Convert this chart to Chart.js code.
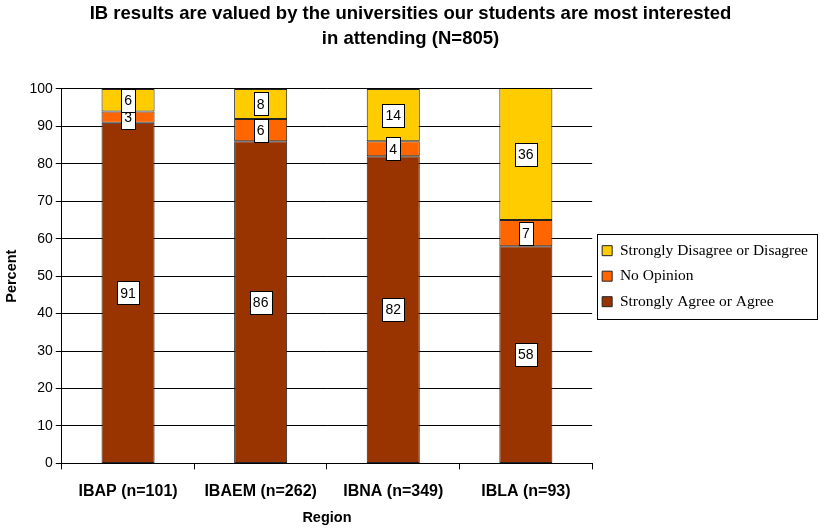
<!DOCTYPE html>
<html>
<head>
<meta charset="utf-8">
<script src="https://cdn.jsdelivr.net/npm/chart.js@4"></script>
<style>
  html, body { margin: 0; padding: 0; background: #fff; }
  #wrap { width: 820px; height: 528px; }
</style>
</head>
<body>
<div id="wrap"><canvas id="chart"></canvas></div>
<script>
const regions = ['IBAP (n=101)', 'IBAEM (n=262)', 'IBNA (n=349)', 'IBLA (n=93)'];
const agree = [91, 86, 82, 58];
const noOpinion = [3, 6, 4, 7];
const disagree = [6, 8, 14, 36];
const yTicks = [0, 10, 20, 30, 40, 50, 60, 70, 80, 90, 100];

// white boxed value labels in the middle of each segment
const boxLabels = {
  id: 'boxLabels',
  afterDatasetsDraw(chart) {
    const ctx = chart.ctx;
    const area = chart.chartArea;
    ctx.save();
    ctx.font = '14px "Liberation Sans", Arial, sans-serif';
    ctx.textAlign = 'center';
    ctx.textBaseline = 'middle';
    chart.data.datasets.forEach((ds, i) => {
      chart.getDatasetMeta(i).data.forEach((bar, j) => {
        const top = Math.max(bar.y, area.top);
        const cy = (top + bar.base) / 2;
        const txt = String(ds.data[j]);
        const w = Math.round(ctx.measureText(txt).width + 6);
        const h = 23;
        const x0 = Math.round(bar.x - w / 2);
        const y0 = Math.round(cy - h / 2);
        ctx.fillStyle = '#fff';
        ctx.fillRect(x0, y0, w, h);
        ctx.strokeStyle = '#000';
        ctx.lineWidth = 1;
        ctx.strokeRect(x0 + 0.5, y0 + 0.5, w, h);
        ctx.fillStyle = '#000';
        ctx.fillText(txt, bar.x, cy + 1);
      });
    });
    ctx.restore();
  }
};

// frame around the legend items
const legendFrame = {
  id: 'legendFrame',
  afterDraw(chart) {
    const lg = chart.legend;
    const boxes = lg.legendHitBoxes;
    if (!boxes || !boxes.length) return;
    const top = Math.min(...boxes.map(b => b.top)) - 9;
    const bottom = Math.max(...boxes.map(b => b.top + b.height)) + 10;
    const ctx = chart.ctx;
    ctx.save();
    ctx.strokeStyle = '#000';
    ctx.lineWidth = 1;
    ctx.strokeRect(Math.round(lg.left + 5) + 0.5, Math.round(top) + 0.5, Math.round(lg.right - lg.left - 6), Math.round(bottom - top));
    ctx.restore();
  }
};

new Chart(document.getElementById('chart'), {
  type: 'bar',
  data: {
    labels: regions,
    datasets: [
      { label: 'Strongly Agree or Agree', data: agree, backgroundColor: '#993300' },
      { label: 'No Opinion', data: noOpinion, backgroundColor: '#FF6600' },
      { label: 'Strongly Disagree or Disagree', data: disagree, backgroundColor: '#FFCC00' }
    ].map(d => Object.assign(d, {
      borderColor: '#222',
      borderWidth: 1,
      borderSkipped: false,
      categoryPercentage: 0.8,
      barPercentage: 0.5
    }))
  },
  options: {
    responsive: true,
    maintainAspectRatio: false,
    animation: false,
    layout: { padding: { left: 3, right: 2, top: 0, bottom: 1 } },
    plugins: {
      title: {
        display: true,
        text: ['IB results are valued by the universities our students are most interested', 'in attending (N=805)'],
        color: '#000',
        font: { family: '"Liberation Sans", Arial, sans-serif', size: 18.5, weight: 'bold', lineHeight: 1.35 },
        padding: { top: 1, bottom: 38 }
      },
      legend: {
        position: 'right',
        fullSize: false,
        reverse: true,
        maxWidth: 240,
        labels: {
          color: '#000',
          boxWidth: 10,
          boxHeight: 10,
          padding: 10,
          font: { family: '"Liberation Serif", "Times New Roman", serif', size: 15.5 }
        }
      },
      tooltip: { enabled: false }
    },
    scales: {
      x: {
        stacked: true,
        grid: { drawOnChartArea: false, color: '#000', tickLength: 6, offset: true },
        border: { color: '#000' },
        ticks: {
          color: '#000',
          padding: 13,
          font: { family: '"Liberation Sans", Arial, sans-serif', size: 16, weight: 'bold' }
        },
        title: {
          display: true,
          text: 'Region',
          color: '#000',
          padding: { top: -5, bottom: 0 },
          font: { family: '"Liberation Sans", Arial, sans-serif', size: 14.5, weight: 'bold' }
        }
      },
      y: {
        stacked: true,
        min: 0,
        max: 100,
        afterBuildTicks: axis => { axis.ticks = yTicks.map(v => ({ value: v })); },
        grid: { color: '#000', tickLength: 6 },
        border: { color: '#000' },
        ticks: {
          color: '#000',
          padding: 3,
          font: { family: '"Liberation Sans", Arial, sans-serif', size: 14 }
        },
        title: {
          display: true,
          text: 'Percent',
          color: '#000',
          padding: { top: 0, bottom: 6 },
          font: { family: '"Liberation Sans", Arial, sans-serif', size: 14.5, weight: 'bold' }
        }
      }
    }
  },
  plugins: [boxLabels, legendFrame]
});
</script>
</body>
</html>
